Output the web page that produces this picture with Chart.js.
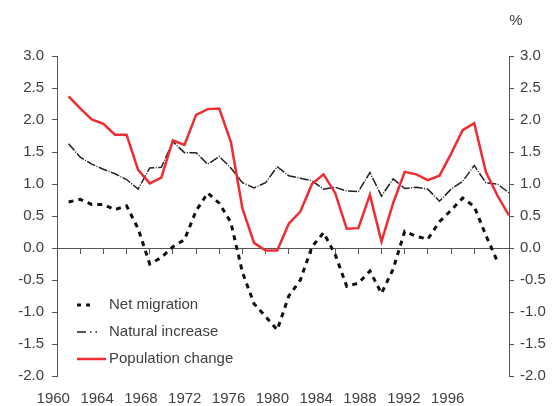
<!DOCTYPE html>
<html>
<head>
<meta charset="utf-8">
<script src="https://cdn.jsdelivr.net/npm/chart.js@4/dist/chart.umd.min.js"></script>
<style>
  html, body { margin: 0; padding: 0; background: #fff; }
</style>
</head>
<body>
<canvas id="myChart" width="554" height="406"></canvas>
<script>
// yearly rates, % of population
var years = [1961, 1962, 1963, 1964, 1965, 1966, 1967, 1968, 1969, 1970,
  1971, 1972, 1973, 1974, 1975, 1976, 1977, 1978, 1979, 1980,
  1981, 1982, 1983, 1984, 1985, 1986, 1987, 1988, 1989, 1990,
  1991, 1992, 1993, 1994, 1995, 1996, 1997, 1998, 1999];
var netMigration = [0.72, 0.76, 0.68, 0.68, 0.60, 0.66, 0.30, -0.25, -0.15, 0.02,
  0.13, 0.58, 0.86, 0.70, 0.40, -0.38, -0.87, -1.07, -1.28, -0.75,
  -0.50, 0.02, 0.24, -0.10, -0.60, -0.55, -0.36, -0.71, -0.33, 0.26,
  0.18, 0.14, 0.41, 0.59, 0.78, 0.65, 0.20, -0.21, null];
var naturalIncrease = [1.63, 1.42, 1.31, 1.23, 1.16, 1.07, 0.92, 1.25, 1.26, 1.66,
  1.49, 1.49, 1.31, 1.43, 1.25, 1.02, 0.94, 1.02, 1.27, 1.13,
  1.09, 1.05, 0.92, 0.95, 0.89, 0.88, 1.18, 0.81, 1.08, 0.93,
  0.95, 0.92, 0.73, 0.92, 1.04, 1.29, 1.02, 1.00, 0.86];
var populationChange = [2.37, 2.18, 2.01, 1.94, 1.77, 1.77, 1.22, 1.01, 1.10, 1.68,
  1.61, 2.08, 2.17, 2.18, 1.66, 0.62, 0.08, -0.04, -0.04, 0.38,
  0.57, 1.00, 1.15, 0.86, 0.30, 0.31, 0.83, 0.10, 0.70, 1.19,
  1.15, 1.06, 1.13, 1.47, 1.84, 1.95, 1.19, 0.82, 0.51];
var yearTicks = [1960, 1964, 1968, 1972, 1976, 1980, 1984, 1988, 1992, 1996];

var tickFont = { family: "'Liberation Sans', Arial, sans-serif", size: 15 };
var textColor = "#404040";
var axisColor = "#555";

function points(values) {
  return years.map(function(yr, i) { return { x: yr, y: values[i] }; });
}

// legend drawn inside the plot, bottom left, plus the % unit
var insideLegend = {
  id: "insideLegend",
  afterDraw: function(chart) {
    var ctx = chart.ctx;
    ctx.save();
    ctx.font = "15px 'Liberation Sans', Arial, sans-serif";
    ctx.fillStyle = textColor;
    ctx.textBaseline = "middle";
    chart.data.datasets.forEach(function(ds, i) {
      var y = 305 + i * 27;
      ctx.strokeStyle = ds.borderColor;
      ctx.lineWidth = ds.borderWidth;
      ctx.setLineDash(ds.legendDash);
      ctx.beginPath();
      ctx.moveTo(77, y);
      ctx.lineTo(77 + ds.legendLength, y);
      ctx.stroke();
      ctx.setLineDash([]);
      ctx.textAlign = "left";
      ctx.fillText(ds.label, 109, y);
    });
    ctx.textAlign = "center";
    ctx.fillText("%", 516, 21);
    ctx.restore();
  }
};

var ctx = document.getElementById("myChart").getContext("2d");
var chart = new Chart(ctx, {
  type: "line",
  data: {
    datasets: [
      {
        label: "Net migration",
        data: points(netMigration),
        borderColor: "#111",
        borderWidth: 3,
        borderDash: [5, 5],
        legendDash: [4, 5],
        legendLength: 14,
        pointRadius: 0,
        fill: false,
        order: 2
      },
      {
        label: "Natural increase",
        data: points(naturalIncrease),
        borderColor: "#222",
        borderWidth: 1.5,
        borderDash: [9, 1.5, 1, 1.5],
        legendDash: [9, 4, 1.5, 4, 1.5, 20],
        legendLength: 30,
        pointRadius: 0,
        fill: false,
        order: 1
      },
      {
        label: "Population change",
        data: points(populationChange),
        borderColor: "rgb(237, 45, 50)",
        borderWidth: 2.5,
        borderDash: [],
        legendDash: [],
        legendLength: 29,
        pointRadius: 0,
        fill: false,
        order: 0
      }
    ]
  },
  options: {
    responsive: false,
    animation: false,
    layout: { padding: { top: 56, left: 0, right: 0, bottom: 0 } },
    plugins: {
      legend: { display: false },
      tooltip: { enabled: false }
    },
    scales: {
      x: {
        type: "linear",
        min: 1960,
        max: 1999,
        position: { y: 0 },
        ticks: { display: false, stepSize: 2 },
        grid: { drawOnChartArea: false, tickLength: 5, color: axisColor },
        border: { color: axisColor }
      },
      // the year labels under the plot are set a little tighter than the data years
      yearAxis: {
        axis: "x",
        type: "linear",
        position: "bottom",
        min: 1960.34,
        max: 2001.6,
        afterBuildTicks: function(scale) {
          scale.ticks = yearTicks.map(function(v) { return { value: v }; });
        },
        afterFit: function(scale) { scale.height = 30; },
        ticks: {
          font: tickFont,
          color: textColor,
          padding: 14,
          maxRotation: 0,
          autoSkip: false,
          callback: function(v) { return String(v); }
        },
        grid: { display: false, drawTicks: false },
        border: { display: false }
      },
      y: {
        type: "linear",
        position: "left",
        min: -2,
        max: 3,
        afterFit: function(scale) { scale.width = 57; },
        ticks: {
          stepSize: 0.5,
          font: tickFont,
          color: textColor,
          padding: 8,
          callback: function(v) { return v.toFixed(1); }
        },
        grid: { drawOnChartArea: false, tickLength: 5, color: axisColor },
        border: { color: axisColor }
      },
      y2: {
        type: "linear",
        position: "right",
        min: -2,
        max: 3,
        afterFit: function(scale) { scale.width = 45; },
        ticks: {
          stepSize: 0.5,
          font: tickFont,
          color: textColor,
          padding: 6,
          callback: function(v) { return v.toFixed(1); }
        },
        grid: { drawOnChartArea: false, tickLength: 5, color: axisColor },
        border: { color: axisColor }
      }
    }
  },
  plugins: [insideLegend]
});
</script>
</body>
</html>
